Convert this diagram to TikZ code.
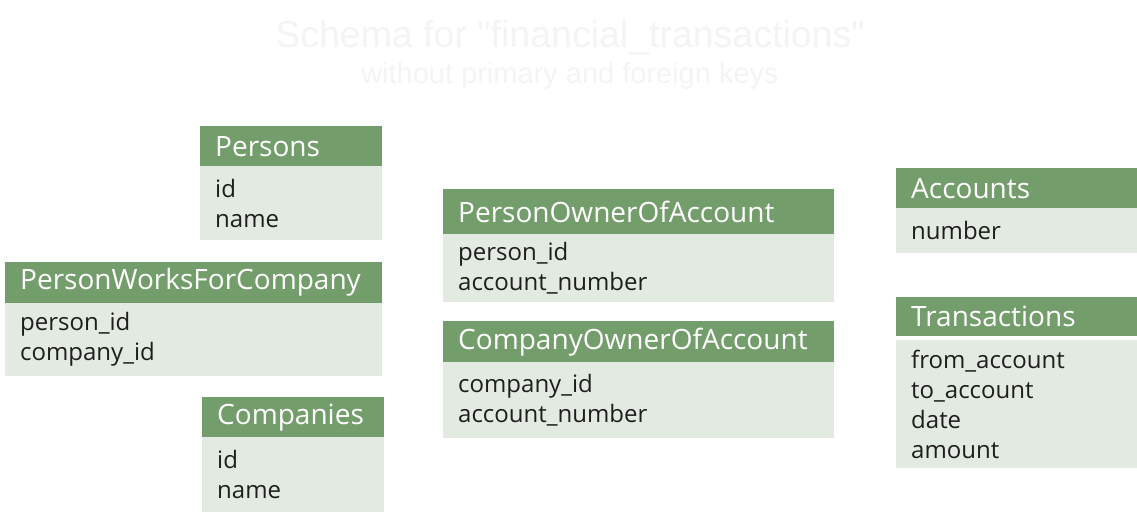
\documentclass[tikz,border=0pt]{standalone}
\usepackage{fontspec}
\setmainfont{Open Sans}
\newfontfamily\titlefont{Liberation Sans}
\definecolor{hdrgreen}{RGB}{116,157,108}
\definecolor{bodygreen}{RGB}{227,234,225}
\definecolor{txt}{RGB}{30,30,30}
\definecolor{faint}{RGB}{244,244,244}
\tikzset{
  hdr/.style={fill=hdrgreen, text=white, anchor=north west, inner xsep=15pt, inner ysep=0pt, align=left,
    font=\fontsize{28}{32}\selectfont},
  bodybox/.style={fill=bodygreen, text=txt, anchor=north west, inner xsep=15pt, inner ysep=0pt, align=left,
    font=\fontsize{24}{30}\selectfont},
  ttl/.style={text=faint, font=\titlefont\fontsize{37.5}{40}\selectfont},
  subttl/.style={text=faint, font=\titlefont\fontsize{29}{32}\selectfont}
}
% name, x, ytop, width, header height, body top, body height, title, fields
\newcommand{\dbtable}[9]{%
  \pgfmathsetmacro\dbtw{#4-30}%
  \node[hdr, minimum width=#4pt, minimum height=#5pt, text width=\dbtw pt] (#1h) at (#2pt,-#3pt) {#8};
  \node[bodybox, minimum width=#4pt, minimum height=#7pt, text width=\dbtw pt] (#1b) at (#2pt,-#6pt) {#9};
}
\begin{document}
\begin{tikzpicture}[x=1pt,y=1pt]
\useasboundingbox (0,0) rectangle (1137,-520);
\node[ttl] (title) at (570,-38) {Schema for "financial\_transactions"};
\node[subttl] (subtitle) at (570,-76) {without primary and foreign keys};
\dbtable{persons}{200}{126}{182}{40}{166}{74}{Persons}{id\\name}
\dbtable{pwfc}{5}{262}{377}{41}{303}{73}{PersonWorksForCompany}{person\_id\\company\_id}
\dbtable{companies}{202}{397}{182}{40}{437}{75}{Companies}{id\\name}
\dbtable{pooa}{443}{189}{391}{45}{234}{68}{PersonOwnerOfAccount}{person\_id\\account\_number}
\dbtable{cooa}{443}{321}{391}{41}{362}{76}{CompanyOwnerOfAccount}{company\_id\\account\_number}
\dbtable{accounts}{896}{168}{241}{40}{208}{45}{Accounts}{number}
\dbtable{transactions}{896}{297}{241}{39}{340}{128}{Transactions}{from\_account\\to\_account\\date\\amount}
\end{tikzpicture}
\end{document}
